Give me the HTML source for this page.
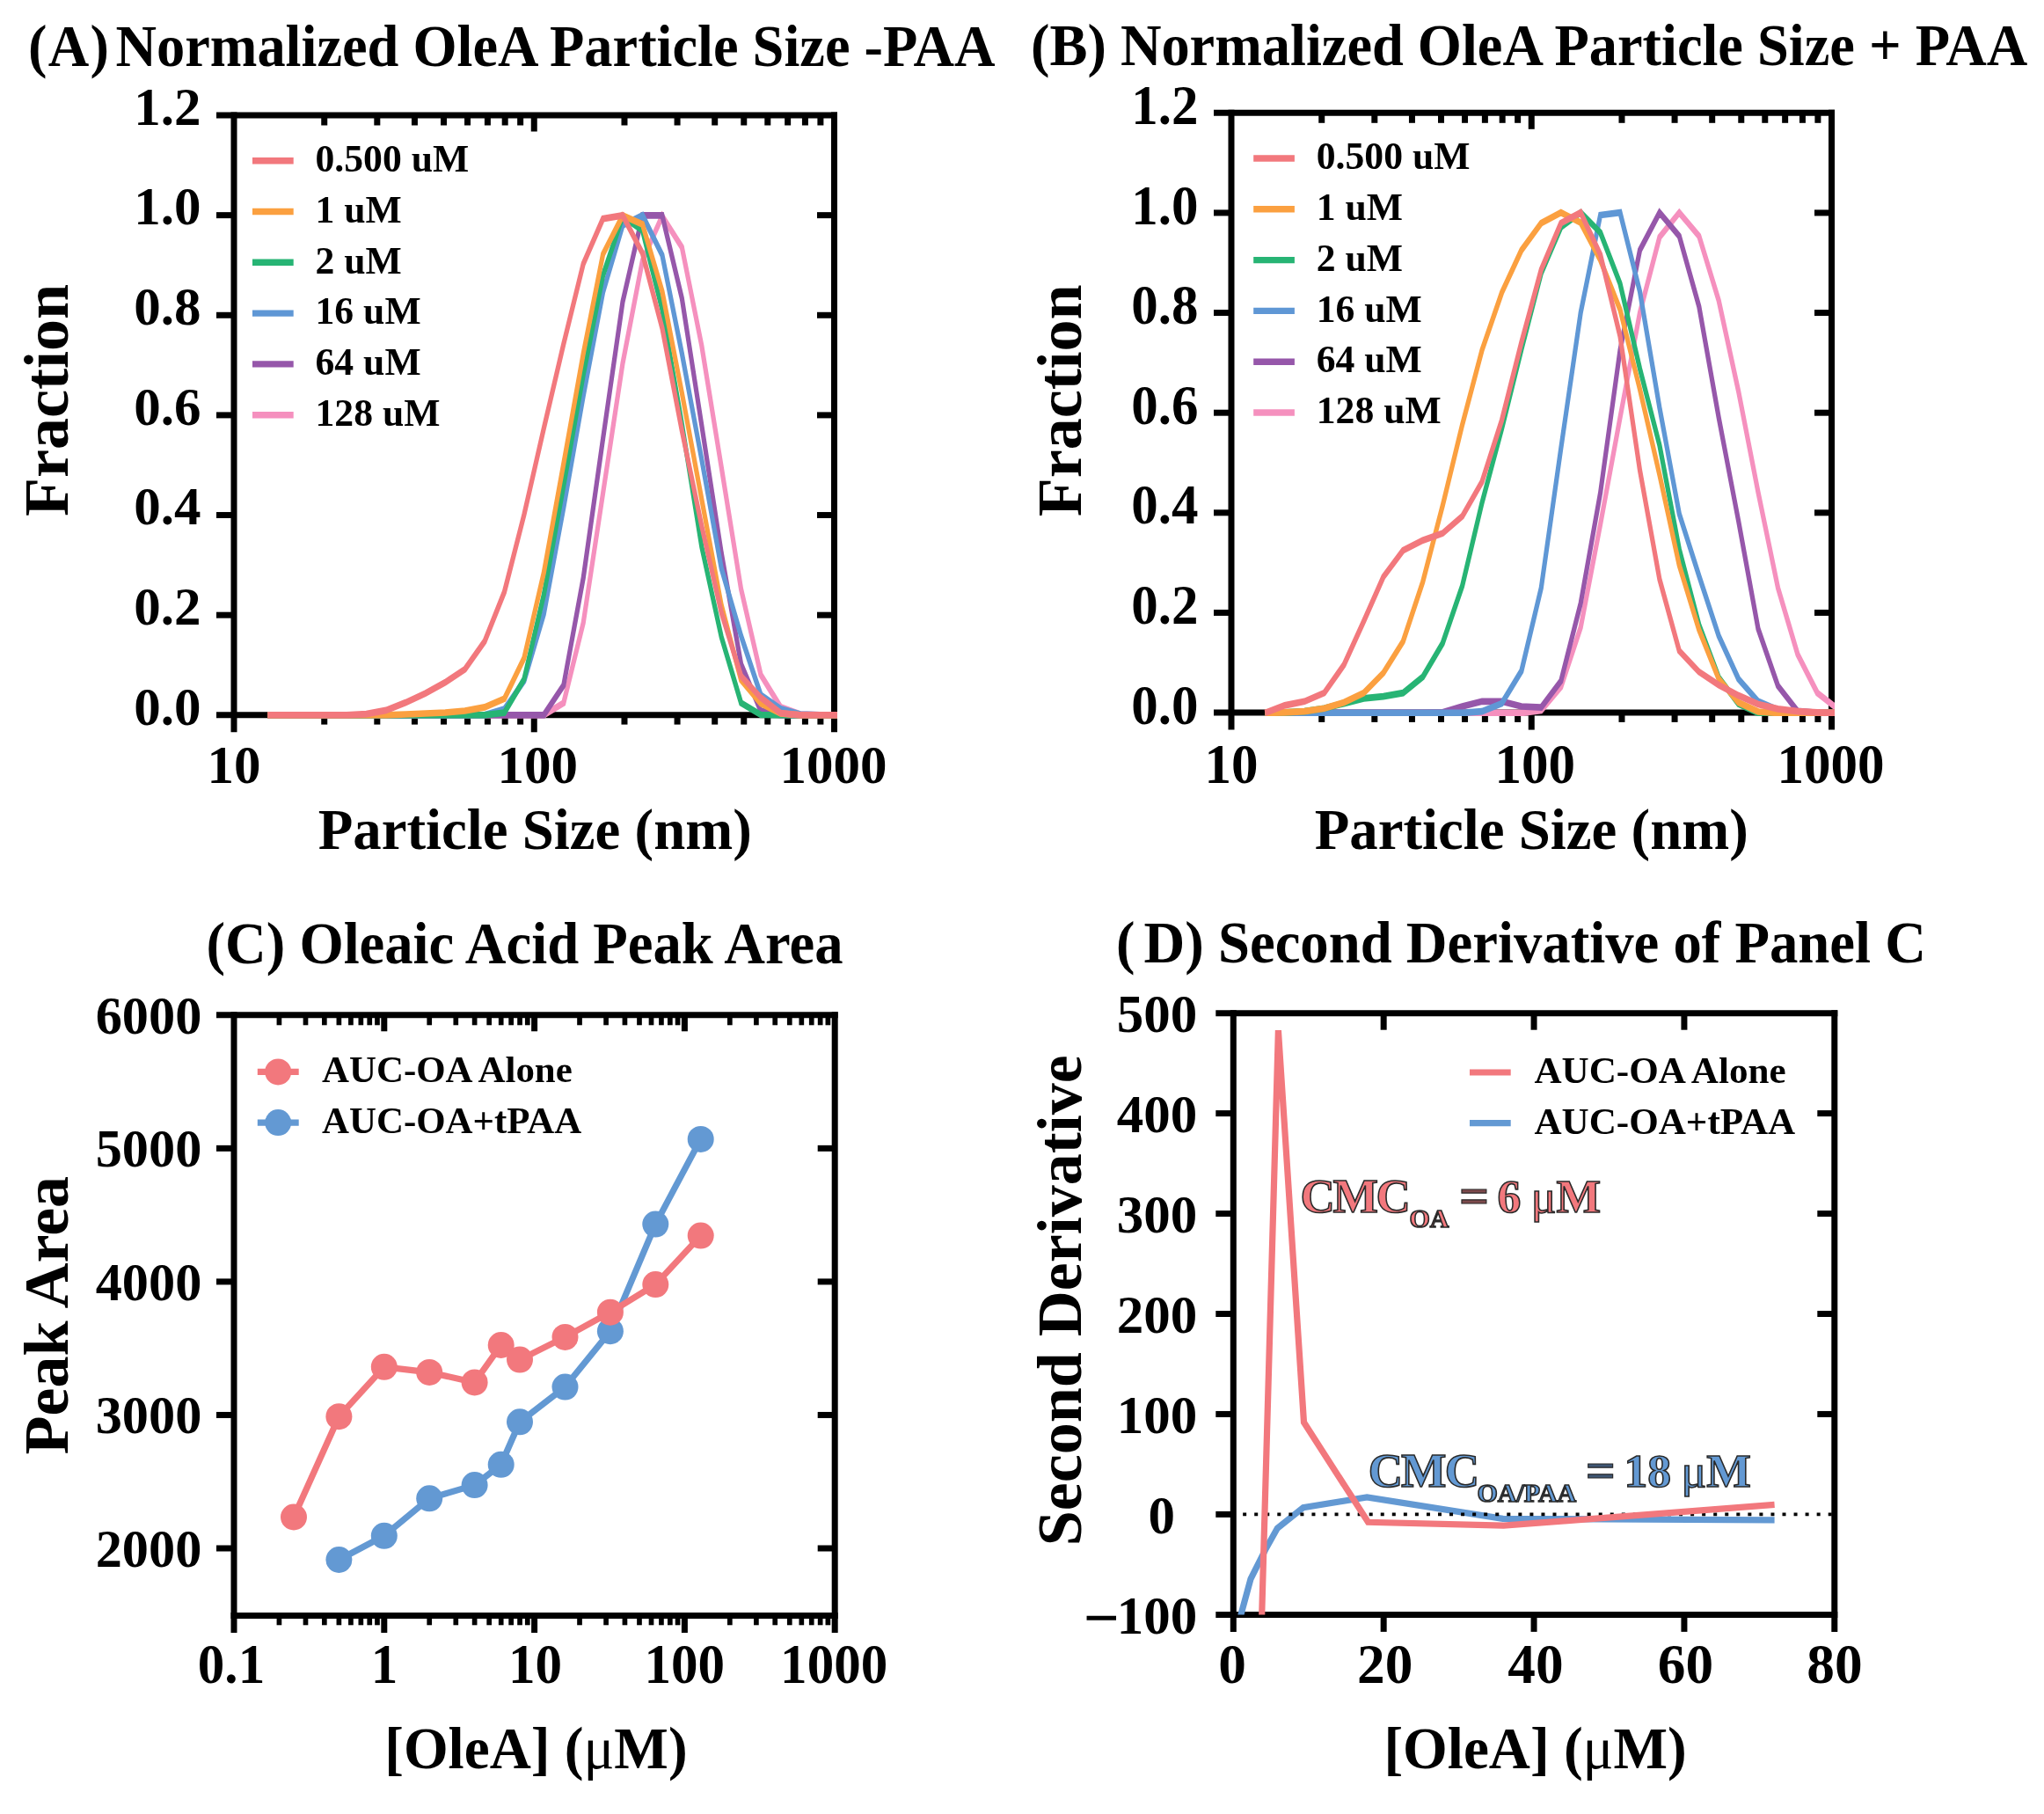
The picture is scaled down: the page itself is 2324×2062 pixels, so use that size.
<!DOCTYPE html><html><head><meta charset="utf-8"><title>Figure</title><style>html,body{margin:0;padding:0;background:#fff}</style></head><body><svg width="2324" height="2062" viewBox="0 0 2324 2062" style="display:block;filter:blur(0.45px);font-family:'Liberation Serif',serif;font-weight:bold" shape-rendering="geometricPrecision">
<rect width="2324" height="2062" fill="#fff"/>
<line x1="246.00" y1="131.00" x2="952.00" y2="131.00" stroke="#000" stroke-width="7.0"/>
<line x1="246.00" y1="812.80" x2="952.00" y2="812.80" stroke="#000" stroke-width="7.0"/>
<line x1="266.00" y1="127.50" x2="266.00" y2="832.30" stroke="#000" stroke-width="7.0"/>
<line x1="948.50" y1="127.50" x2="948.50" y2="832.30" stroke="#000" stroke-width="7.0"/>
<line x1="368.73" y1="812.80" x2="368.73" y2="823.60" stroke="#000" stroke-width="7.0"/>
<line x1="368.73" y1="131.00" x2="368.73" y2="142.50" stroke="#000" stroke-width="7.0"/>
<line x1="428.82" y1="812.80" x2="428.82" y2="823.60" stroke="#000" stroke-width="7.0"/>
<line x1="428.82" y1="131.00" x2="428.82" y2="142.50" stroke="#000" stroke-width="7.0"/>
<line x1="471.45" y1="812.80" x2="471.45" y2="823.60" stroke="#000" stroke-width="7.0"/>
<line x1="471.45" y1="131.00" x2="471.45" y2="142.50" stroke="#000" stroke-width="7.0"/>
<line x1="504.52" y1="812.80" x2="504.52" y2="823.60" stroke="#000" stroke-width="7.0"/>
<line x1="504.52" y1="131.00" x2="504.52" y2="142.50" stroke="#000" stroke-width="7.0"/>
<line x1="531.54" y1="812.80" x2="531.54" y2="823.60" stroke="#000" stroke-width="7.0"/>
<line x1="531.54" y1="131.00" x2="531.54" y2="142.50" stroke="#000" stroke-width="7.0"/>
<line x1="554.39" y1="812.80" x2="554.39" y2="823.60" stroke="#000" stroke-width="7.0"/>
<line x1="554.39" y1="131.00" x2="554.39" y2="142.50" stroke="#000" stroke-width="7.0"/>
<line x1="574.18" y1="812.80" x2="574.18" y2="823.60" stroke="#000" stroke-width="7.0"/>
<line x1="574.18" y1="131.00" x2="574.18" y2="142.50" stroke="#000" stroke-width="7.0"/>
<line x1="591.64" y1="812.80" x2="591.64" y2="823.60" stroke="#000" stroke-width="7.0"/>
<line x1="591.64" y1="131.00" x2="591.64" y2="142.50" stroke="#000" stroke-width="7.0"/>
<line x1="607.25" y1="812.80" x2="607.25" y2="832.30" stroke="#000" stroke-width="7.0"/>
<line x1="607.25" y1="131.00" x2="607.25" y2="149.50" stroke="#000" stroke-width="7.0"/>
<line x1="709.98" y1="812.80" x2="709.98" y2="823.60" stroke="#000" stroke-width="7.0"/>
<line x1="709.98" y1="131.00" x2="709.98" y2="142.50" stroke="#000" stroke-width="7.0"/>
<line x1="770.07" y1="812.80" x2="770.07" y2="823.60" stroke="#000" stroke-width="7.0"/>
<line x1="770.07" y1="131.00" x2="770.07" y2="142.50" stroke="#000" stroke-width="7.0"/>
<line x1="812.70" y1="812.80" x2="812.70" y2="823.60" stroke="#000" stroke-width="7.0"/>
<line x1="812.70" y1="131.00" x2="812.70" y2="142.50" stroke="#000" stroke-width="7.0"/>
<line x1="845.77" y1="812.80" x2="845.77" y2="823.60" stroke="#000" stroke-width="7.0"/>
<line x1="845.77" y1="131.00" x2="845.77" y2="142.50" stroke="#000" stroke-width="7.0"/>
<line x1="872.79" y1="812.80" x2="872.79" y2="823.60" stroke="#000" stroke-width="7.0"/>
<line x1="872.79" y1="131.00" x2="872.79" y2="142.50" stroke="#000" stroke-width="7.0"/>
<line x1="895.64" y1="812.80" x2="895.64" y2="823.60" stroke="#000" stroke-width="7.0"/>
<line x1="895.64" y1="131.00" x2="895.64" y2="142.50" stroke="#000" stroke-width="7.0"/>
<line x1="915.43" y1="812.80" x2="915.43" y2="823.60" stroke="#000" stroke-width="7.0"/>
<line x1="915.43" y1="131.00" x2="915.43" y2="142.50" stroke="#000" stroke-width="7.0"/>
<line x1="932.89" y1="812.80" x2="932.89" y2="823.60" stroke="#000" stroke-width="7.0"/>
<line x1="932.89" y1="131.00" x2="932.89" y2="142.50" stroke="#000" stroke-width="7.0"/>
<line x1="246.00" y1="699.17" x2="266.00" y2="699.17" stroke="#000" stroke-width="7.0"/>
<line x1="929.00" y1="699.17" x2="948.50" y2="699.17" stroke="#000" stroke-width="7.0"/>
<line x1="246.00" y1="585.53" x2="266.00" y2="585.53" stroke="#000" stroke-width="7.0"/>
<line x1="929.00" y1="585.53" x2="948.50" y2="585.53" stroke="#000" stroke-width="7.0"/>
<line x1="246.00" y1="471.90" x2="266.00" y2="471.90" stroke="#000" stroke-width="7.0"/>
<line x1="929.00" y1="471.90" x2="948.50" y2="471.90" stroke="#000" stroke-width="7.0"/>
<line x1="246.00" y1="358.27" x2="266.00" y2="358.27" stroke="#000" stroke-width="7.0"/>
<line x1="929.00" y1="358.27" x2="948.50" y2="358.27" stroke="#000" stroke-width="7.0"/>
<line x1="246.00" y1="244.63" x2="266.00" y2="244.63" stroke="#000" stroke-width="7.0"/>
<line x1="929.00" y1="244.63" x2="948.50" y2="244.63" stroke="#000" stroke-width="7.0"/>
<text x="228.50" y="823.60" font-size="61" text-anchor="end" fill="#000" >0.0</text>
<text x="228.50" y="709.97" font-size="61" text-anchor="end" fill="#000" >0.2</text>
<text x="228.50" y="596.33" font-size="61" text-anchor="end" fill="#000" >0.4</text>
<text x="228.50" y="482.70" font-size="61" text-anchor="end" fill="#000" >0.6</text>
<text x="228.50" y="369.07" font-size="61" text-anchor="end" fill="#000" >0.8</text>
<text x="228.50" y="255.43" font-size="61" text-anchor="end" fill="#000" >1.0</text>
<text x="228.50" y="141.80" font-size="61" text-anchor="end" fill="#000" >1.2</text>
<text x="266.00" y="889.50" font-size="61" text-anchor="middle" fill="#000" >10</text>
<text x="611.25" y="889.50" font-size="61" text-anchor="middle" fill="#000" >100</text>
<text x="947.50" y="889.50" font-size="61" text-anchor="middle" fill="#000" >1000</text>
<text x="608.25" y="964.90" font-size="64.8" text-anchor="middle" fill="#000" >Particle Size (nm)</text>
<text transform="translate(76.70,455.00) rotate(-90)" font-size="72" text-anchor="middle">Fraction</text>
<text transform="translate(32.00,74.60) scale(1,1.04)" font-size="64.4" text-anchor="start" fill="#000" ><tspan letter-spacing="1.3">(A)</tspan></text>
<text transform="translate(131.50,74.60) scale(1,1.04)" font-size="64.4" text-anchor="start" fill="#000" >Normalized OleA Particle Size -PAA</text>
<clipPath id="clipA"><rect x="262.5" y="127.5" width="689.5" height="689.2"/></clipPath>
<g clip-path="url(#clipA)"><polyline points="304.3,549.19 618.3,549.19 640.8,539.86 663.2,478.38 685.6,378.72 708.0,279.05 730.5,200.00 752.9,166.01 775.3,189.86 797.8,265.54 820.2,358.78 842.6,452.57 865.0,518.24 887.5,543.04 909.9,548.65 932.3,549.19 956.0,549.19" transform="scale(1,1.48)" fill="none" stroke="#F590BE" stroke-width="5.2" stroke-linejoin="miter" stroke-miterlimit="10"/></g>
<g clip-path="url(#clipA)"><polyline points="304.3,549.19 618.3,549.19 640.8,526.35 663.2,443.92 685.6,336.82 708.0,231.76 730.5,165.41 752.9,165.41 775.3,229.05 797.8,326.69 820.2,424.73 842.6,510.14 865.0,545.95 887.5,549.19 956.0,549.19" transform="scale(1,1.48)" fill="none" stroke="#9657AA" stroke-width="5.2" stroke-linejoin="miter" stroke-miterlimit="10"/></g>
<g clip-path="url(#clipA)"><polyline points="304.3,549.19 551.0,549.19 573.5,544.59 595.9,522.97 618.3,471.62 640.8,389.86 663.2,304.05 685.6,224.32 708.0,172.97 730.5,165.41 752.9,195.95 775.3,271.35 797.8,352.91 820.2,436.49 842.6,488.51 865.0,533.78 887.5,544.39 909.9,548.65 932.3,549.19 956.0,549.19" transform="scale(1,1.48)" fill="none" stroke="#5F97D5" stroke-width="5.2" stroke-linejoin="miter" stroke-miterlimit="10"/></g>
<g clip-path="url(#clipA)"><polyline points="304.3,549.19 551.0,549.19 573.5,547.30 595.9,521.62 618.3,456.76 640.8,372.97 663.2,287.84 685.6,211.49 708.0,166.22 730.5,177.03 752.9,237.84 775.3,325.68 797.8,419.93 820.2,489.19 842.6,539.86 865.0,548.99 887.5,549.19 956.0,549.19" transform="scale(1,1.48)" fill="none" stroke="#27B474" stroke-width="5.2" stroke-linejoin="miter" stroke-miterlimit="10"/></g>
<g clip-path="url(#clipA)"><polyline points="304.3,549.19 438.9,549.19 461.3,548.65 483.7,547.97 506.2,547.30 528.6,545.95 551.0,543.18 573.5,536.62 595.9,505.41 618.3,439.86 640.8,356.08 663.2,271.62 685.6,195.27 708.0,165.54 730.5,172.30 752.9,223.65 775.3,301.69 797.8,383.51 820.2,464.86 842.6,522.30 865.0,540.20 887.5,547.97 909.9,549.19 956.0,549.19" transform="scale(1,1.48)" fill="none" stroke="#FBA040" stroke-width="5.2" stroke-linejoin="miter" stroke-miterlimit="10"/></g>
<g clip-path="url(#clipA)"><polyline points="304.3,549.19 394.0,549.19 416.5,548.38 438.9,545.54 461.3,539.59 483.7,532.50 506.2,524.12 528.6,514.05 551.0,492.64 573.5,454.53 595.9,395.27 618.3,329.05 640.8,264.19 663.2,202.70 685.6,167.97 708.0,165.41 730.5,194.59 752.9,252.03 775.3,330.68 797.8,403.99 820.2,470.54 842.6,519.26 865.0,535.81 887.5,547.64 909.9,549.19 956.0,549.19" transform="scale(1,1.48)" fill="none" stroke="#F2787D" stroke-width="5.2" stroke-linejoin="miter" stroke-miterlimit="10"/></g>
<line x1="287.00" y1="182.70" x2="333.70" y2="182.70" stroke="#F2787D" stroke-width="7.4"/>
<text x="358.50" y="194.90" font-size="43.7" text-anchor="start" fill="#000" >0.500 uM</text>
<line x1="287.00" y1="240.50" x2="333.70" y2="240.50" stroke="#FBA040" stroke-width="7.4"/>
<text x="358.50" y="252.70" font-size="43.7" text-anchor="start" fill="#000" >1 uM</text>
<line x1="287.00" y1="298.30" x2="333.70" y2="298.30" stroke="#27B474" stroke-width="7.4"/>
<text x="358.50" y="310.50" font-size="43.7" text-anchor="start" fill="#000" >2 uM</text>
<line x1="287.00" y1="356.10" x2="333.70" y2="356.10" stroke="#5F97D5" stroke-width="7.4"/>
<text x="358.50" y="368.30" font-size="43.7" text-anchor="start" fill="#000" >16 uM</text>
<line x1="287.00" y1="413.90" x2="333.70" y2="413.90" stroke="#9657AA" stroke-width="7.4"/>
<text x="358.50" y="426.10" font-size="43.7" text-anchor="start" fill="#000" >64 uM</text>
<line x1="287.00" y1="471.70" x2="333.70" y2="471.70" stroke="#F590BE" stroke-width="7.4"/>
<text x="358.50" y="483.90" font-size="43.7" text-anchor="start" fill="#000" >128 uM</text>
<line x1="1380.00" y1="128.30" x2="2086.00" y2="128.30" stroke="#000" stroke-width="7.0"/>
<line x1="1380.00" y1="810.10" x2="2086.00" y2="810.10" stroke="#000" stroke-width="7.0"/>
<line x1="1400.00" y1="124.80" x2="1400.00" y2="829.60" stroke="#000" stroke-width="7.0"/>
<line x1="2082.50" y1="124.80" x2="2082.50" y2="829.60" stroke="#000" stroke-width="7.0"/>
<line x1="1502.73" y1="810.10" x2="1502.73" y2="820.90" stroke="#000" stroke-width="7.0"/>
<line x1="1502.73" y1="128.30" x2="1502.73" y2="139.80" stroke="#000" stroke-width="7.0"/>
<line x1="1562.82" y1="810.10" x2="1562.82" y2="820.90" stroke="#000" stroke-width="7.0"/>
<line x1="1562.82" y1="128.30" x2="1562.82" y2="139.80" stroke="#000" stroke-width="7.0"/>
<line x1="1605.45" y1="810.10" x2="1605.45" y2="820.90" stroke="#000" stroke-width="7.0"/>
<line x1="1605.45" y1="128.30" x2="1605.45" y2="139.80" stroke="#000" stroke-width="7.0"/>
<line x1="1638.52" y1="810.10" x2="1638.52" y2="820.90" stroke="#000" stroke-width="7.0"/>
<line x1="1638.52" y1="128.30" x2="1638.52" y2="139.80" stroke="#000" stroke-width="7.0"/>
<line x1="1665.54" y1="810.10" x2="1665.54" y2="820.90" stroke="#000" stroke-width="7.0"/>
<line x1="1665.54" y1="128.30" x2="1665.54" y2="139.80" stroke="#000" stroke-width="7.0"/>
<line x1="1688.39" y1="810.10" x2="1688.39" y2="820.90" stroke="#000" stroke-width="7.0"/>
<line x1="1688.39" y1="128.30" x2="1688.39" y2="139.80" stroke="#000" stroke-width="7.0"/>
<line x1="1708.18" y1="810.10" x2="1708.18" y2="820.90" stroke="#000" stroke-width="7.0"/>
<line x1="1708.18" y1="128.30" x2="1708.18" y2="139.80" stroke="#000" stroke-width="7.0"/>
<line x1="1725.64" y1="810.10" x2="1725.64" y2="820.90" stroke="#000" stroke-width="7.0"/>
<line x1="1725.64" y1="128.30" x2="1725.64" y2="139.80" stroke="#000" stroke-width="7.0"/>
<line x1="1741.25" y1="810.10" x2="1741.25" y2="829.60" stroke="#000" stroke-width="7.0"/>
<line x1="1741.25" y1="128.30" x2="1741.25" y2="146.80" stroke="#000" stroke-width="7.0"/>
<line x1="1843.98" y1="810.10" x2="1843.98" y2="820.90" stroke="#000" stroke-width="7.0"/>
<line x1="1843.98" y1="128.30" x2="1843.98" y2="139.80" stroke="#000" stroke-width="7.0"/>
<line x1="1904.07" y1="810.10" x2="1904.07" y2="820.90" stroke="#000" stroke-width="7.0"/>
<line x1="1904.07" y1="128.30" x2="1904.07" y2="139.80" stroke="#000" stroke-width="7.0"/>
<line x1="1946.70" y1="810.10" x2="1946.70" y2="820.90" stroke="#000" stroke-width="7.0"/>
<line x1="1946.70" y1="128.30" x2="1946.70" y2="139.80" stroke="#000" stroke-width="7.0"/>
<line x1="1979.77" y1="810.10" x2="1979.77" y2="820.90" stroke="#000" stroke-width="7.0"/>
<line x1="1979.77" y1="128.30" x2="1979.77" y2="139.80" stroke="#000" stroke-width="7.0"/>
<line x1="2006.79" y1="810.10" x2="2006.79" y2="820.90" stroke="#000" stroke-width="7.0"/>
<line x1="2006.79" y1="128.30" x2="2006.79" y2="139.80" stroke="#000" stroke-width="7.0"/>
<line x1="2029.64" y1="810.10" x2="2029.64" y2="820.90" stroke="#000" stroke-width="7.0"/>
<line x1="2029.64" y1="128.30" x2="2029.64" y2="139.80" stroke="#000" stroke-width="7.0"/>
<line x1="2049.43" y1="810.10" x2="2049.43" y2="820.90" stroke="#000" stroke-width="7.0"/>
<line x1="2049.43" y1="128.30" x2="2049.43" y2="139.80" stroke="#000" stroke-width="7.0"/>
<line x1="2066.89" y1="810.10" x2="2066.89" y2="820.90" stroke="#000" stroke-width="7.0"/>
<line x1="2066.89" y1="128.30" x2="2066.89" y2="139.80" stroke="#000" stroke-width="7.0"/>
<line x1="1380.00" y1="696.47" x2="1400.00" y2="696.47" stroke="#000" stroke-width="7.0"/>
<line x1="2063.00" y1="696.47" x2="2082.50" y2="696.47" stroke="#000" stroke-width="7.0"/>
<line x1="1380.00" y1="582.83" x2="1400.00" y2="582.83" stroke="#000" stroke-width="7.0"/>
<line x1="2063.00" y1="582.83" x2="2082.50" y2="582.83" stroke="#000" stroke-width="7.0"/>
<line x1="1380.00" y1="469.20" x2="1400.00" y2="469.20" stroke="#000" stroke-width="7.0"/>
<line x1="2063.00" y1="469.20" x2="2082.50" y2="469.20" stroke="#000" stroke-width="7.0"/>
<line x1="1380.00" y1="355.57" x2="1400.00" y2="355.57" stroke="#000" stroke-width="7.0"/>
<line x1="2063.00" y1="355.57" x2="2082.50" y2="355.57" stroke="#000" stroke-width="7.0"/>
<line x1="1380.00" y1="241.93" x2="1400.00" y2="241.93" stroke="#000" stroke-width="7.0"/>
<line x1="2063.00" y1="241.93" x2="2082.50" y2="241.93" stroke="#000" stroke-width="7.0"/>
<text transform="translate(1362.50,822.70) scale(1,1.055)" font-size="61" text-anchor="end" fill="#000" >0.0</text>
<text transform="translate(1362.50,709.07) scale(1,1.055)" font-size="61" text-anchor="end" fill="#000" >0.2</text>
<text transform="translate(1362.50,595.43) scale(1,1.055)" font-size="61" text-anchor="end" fill="#000" >0.4</text>
<text transform="translate(1362.50,481.80) scale(1,1.055)" font-size="61" text-anchor="end" fill="#000" >0.6</text>
<text transform="translate(1362.50,368.17) scale(1,1.055)" font-size="61" text-anchor="end" fill="#000" >0.8</text>
<text transform="translate(1362.50,254.53) scale(1,1.055)" font-size="61" text-anchor="end" fill="#000" >1.0</text>
<text transform="translate(1362.50,140.90) scale(1,1.055)" font-size="61" text-anchor="end" fill="#000" >1.2</text>
<text transform="translate(1400.00,890.30) scale(1,1.03)" font-size="61" text-anchor="middle" fill="#000" >10</text>
<text transform="translate(1745.25,890.30) scale(1,1.03)" font-size="61" text-anchor="middle" fill="#000" >100</text>
<text transform="translate(2081.50,890.30) scale(1,1.03)" font-size="61" text-anchor="middle" fill="#000" >1000</text>
<text x="1741.25" y="964.90" font-size="64.8" text-anchor="middle" fill="#000" >Particle Size (nm)</text>
<text transform="translate(1228.60,455.30) rotate(-90)" font-size="72" text-anchor="middle">Fraction</text>
<text transform="translate(1172.00,74.10) scale(1,1.04)" font-size="64.4" text-anchor="start" fill="#000" >(B) Normalized OleA Particle Size + PAA</text>
<clipPath id="clipB"><rect x="1396.5" y="124.8" width="689.5" height="689.2"/></clipPath>
<g clip-path="url(#clipB)"><polyline points="1438.3,547.57 1460.7,547.57 1483.2,547.57 1505.6,547.57 1528.0,547.57 1550.5,547.57 1572.9,547.57 1595.3,547.57 1617.7,547.57 1640.2,547.57 1662.6,547.57 1685.0,547.57 1707.5,547.57 1729.9,547.57 1752.3,545.65 1774.8,527.58 1797.2,481.85 1819.6,402.69 1842.0,320.84 1864.5,240.14 1886.9,182.11 1909.3,163.28 1931.8,181.34 1954.2,230.91 1976.6,300.47 1999.0,378.10 2021.5,451.49 2043.9,502.61 2066.3,532.20 2088.8,544.11" transform="scale(1,1.48)" fill="none" stroke="#F590BE" stroke-width="5.2" stroke-linejoin="miter" stroke-miterlimit="10"/></g>
<g clip-path="url(#clipB)"><polyline points="1438.3,547.57 1460.7,547.57 1483.2,547.57 1505.6,547.57 1528.0,547.57 1550.5,547.57 1572.9,547.57 1595.3,547.57 1617.7,547.57 1640.2,547.18 1662.6,542.57 1685.0,538.73 1707.5,538.73 1729.9,542.57 1752.3,543.34 1774.8,522.97 1797.2,463.41 1819.6,378.48 1842.0,268.96 1864.5,192.10 1886.9,163.28 1909.3,181.34 1931.8,235.52 1954.2,320.84 1976.6,400.00 1999.0,483.01 2021.5,526.82 2043.9,546.18 2066.3,547.57 2088.8,547.57" transform="scale(1,1.48)" fill="none" stroke="#9657AA" stroke-width="5.2" stroke-linejoin="miter" stroke-miterlimit="10"/></g>
<g clip-path="url(#clipB)"><polyline points="1438.3,547.57 1460.7,547.57 1483.2,547.57 1505.6,547.57 1528.0,547.57 1550.5,547.57 1572.9,547.57 1595.3,547.57 1617.7,547.57 1640.2,547.57 1662.6,547.57 1685.0,546.41 1707.5,540.27 1729.9,515.29 1752.3,451.49 1774.8,344.28 1797.2,240.14 1819.6,165.20 1842.0,163.28 1864.5,223.99 1886.9,313.15 1909.3,394.62 1931.8,442.27 1954.2,488.39 1976.6,521.44 1999.0,538.73 2021.5,545.26 2043.9,547.18 2066.3,547.57 2088.8,547.57" transform="scale(1,1.48)" fill="none" stroke="#5F97D5" stroke-width="5.2" stroke-linejoin="miter" stroke-miterlimit="10"/></g>
<g clip-path="url(#clipB)"><polyline points="1438.3,547.57 1460.7,547.18 1483.2,546.41 1505.6,544.11 1528.0,540.27 1550.5,536.42 1572.9,534.89 1595.3,532.20 1617.7,519.90 1640.2,494.15 1662.6,449.96 1685.0,386.17 1707.5,329.29 1729.9,268.19 1752.3,209.78 1774.8,174.42 1797.2,163.28 1819.6,178.65 1842.0,217.85 1864.5,283.18 1886.9,341.97 1909.3,421.90 1931.8,479.93 1954.2,520.28 1976.6,540.65 1999.0,547.57 2021.5,547.57 2043.9,547.57 2066.3,547.57 2088.8,547.57" transform="scale(1,1.48)" fill="none" stroke="#27B474" stroke-width="5.2" stroke-linejoin="miter" stroke-miterlimit="10"/></g>
<g clip-path="url(#clipB)"><polyline points="1438.3,547.57 1460.7,547.18 1483.2,546.41 1505.6,544.11 1528.0,539.50 1550.5,532.20 1572.9,516.82 1595.3,492.61 1617.7,446.88 1640.2,388.47 1662.6,326.22 1685.0,268.96 1707.5,224.76 1729.9,192.10 1752.3,171.35 1774.8,163.28 1797.2,170.96 1819.6,199.78 1842.0,237.83 1864.5,298.93 1886.9,364.65 1909.3,434.20 1931.8,483.78 1954.2,521.44 1976.6,539.50 1999.0,546.61 2021.5,547.57 2043.9,547.57 2066.3,547.57 2088.8,547.57" transform="scale(1,1.48)" fill="none" stroke="#FBA040" stroke-width="5.2" stroke-linejoin="miter" stroke-miterlimit="10"/></g>
<g clip-path="url(#clipB)"><polyline points="1438.3,547.57 1460.7,541.80 1483.2,538.73 1505.6,532.20 1528.0,510.68 1550.5,477.24 1572.9,443.04 1595.3,422.67 1617.7,414.99 1640.2,409.61 1662.6,396.54 1685.0,370.03 1707.5,322.76 1729.9,262.81 1752.3,207.09 1774.8,171.35 1797.2,163.28 1819.6,195.56 1842.0,258.20 1864.5,361.19 1886.9,444.96 1909.3,499.92 1931.8,516.06 1954.2,526.05 1976.6,534.12 1999.0,540.84 2021.5,544.49 2043.9,546.41 2066.3,547.18 2088.8,547.57" transform="scale(1,1.48)" fill="none" stroke="#F2787D" stroke-width="5.2" stroke-linejoin="miter" stroke-miterlimit="10"/></g>
<line x1="1425.20" y1="180.00" x2="1471.90" y2="180.00" stroke="#F2787D" stroke-width="7.4"/>
<text x="1496.70" y="192.20" font-size="43.7" text-anchor="start" fill="#000" >0.500 uM</text>
<line x1="1425.20" y1="237.80" x2="1471.90" y2="237.80" stroke="#FBA040" stroke-width="7.4"/>
<text x="1496.70" y="250.00" font-size="43.7" text-anchor="start" fill="#000" >1 uM</text>
<line x1="1425.20" y1="295.60" x2="1471.90" y2="295.60" stroke="#27B474" stroke-width="7.4"/>
<text x="1496.70" y="307.80" font-size="43.7" text-anchor="start" fill="#000" >2 uM</text>
<line x1="1425.20" y1="353.40" x2="1471.90" y2="353.40" stroke="#5F97D5" stroke-width="7.4"/>
<text x="1496.70" y="365.60" font-size="43.7" text-anchor="start" fill="#000" >16 uM</text>
<line x1="1425.20" y1="411.20" x2="1471.90" y2="411.20" stroke="#9657AA" stroke-width="7.4"/>
<text x="1496.70" y="423.40" font-size="43.7" text-anchor="start" fill="#000" >64 uM</text>
<line x1="1425.20" y1="469.00" x2="1471.90" y2="469.00" stroke="#F590BE" stroke-width="7.4"/>
<text x="1496.70" y="481.20" font-size="43.7" text-anchor="start" fill="#000" >128 uM</text>
<line x1="246.00" y1="1153.80" x2="952.70" y2="1153.80" stroke="#000" stroke-width="7.0"/>
<line x1="262.50" y1="1836.50" x2="952.70" y2="1836.50" stroke="#000" stroke-width="7.0"/>
<line x1="266.00" y1="1150.30" x2="266.00" y2="1856.00" stroke="#000" stroke-width="7.0"/>
<line x1="949.20" y1="1150.30" x2="949.20" y2="1856.00" stroke="#000" stroke-width="7.0"/>
<line x1="317.42" y1="1836.50" x2="317.42" y2="1847.30" stroke="#000" stroke-width="5.7"/>
<line x1="317.42" y1="1153.80" x2="317.42" y2="1165.30" stroke="#000" stroke-width="5.7"/>
<line x1="347.49" y1="1836.50" x2="347.49" y2="1847.30" stroke="#000" stroke-width="5.7"/>
<line x1="347.49" y1="1153.80" x2="347.49" y2="1165.30" stroke="#000" stroke-width="5.7"/>
<line x1="368.83" y1="1836.50" x2="368.83" y2="1847.30" stroke="#000" stroke-width="5.7"/>
<line x1="368.83" y1="1153.80" x2="368.83" y2="1165.30" stroke="#000" stroke-width="5.7"/>
<line x1="385.38" y1="1836.50" x2="385.38" y2="1847.30" stroke="#000" stroke-width="5.7"/>
<line x1="385.38" y1="1153.80" x2="385.38" y2="1165.30" stroke="#000" stroke-width="5.7"/>
<line x1="398.91" y1="1836.50" x2="398.91" y2="1847.30" stroke="#000" stroke-width="5.7"/>
<line x1="398.91" y1="1153.80" x2="398.91" y2="1165.30" stroke="#000" stroke-width="5.7"/>
<line x1="410.34" y1="1836.50" x2="410.34" y2="1847.30" stroke="#000" stroke-width="5.7"/>
<line x1="410.34" y1="1153.80" x2="410.34" y2="1165.30" stroke="#000" stroke-width="5.7"/>
<line x1="420.25" y1="1836.50" x2="420.25" y2="1847.30" stroke="#000" stroke-width="5.7"/>
<line x1="420.25" y1="1153.80" x2="420.25" y2="1165.30" stroke="#000" stroke-width="5.7"/>
<line x1="428.98" y1="1836.50" x2="428.98" y2="1847.30" stroke="#000" stroke-width="5.7"/>
<line x1="428.98" y1="1153.80" x2="428.98" y2="1165.30" stroke="#000" stroke-width="5.7"/>
<line x1="436.80" y1="1836.50" x2="436.80" y2="1856.00" stroke="#000" stroke-width="7.0"/>
<line x1="436.80" y1="1153.80" x2="436.80" y2="1172.30" stroke="#000" stroke-width="7.0"/>
<line x1="488.22" y1="1836.50" x2="488.22" y2="1847.30" stroke="#000" stroke-width="5.7"/>
<line x1="488.22" y1="1153.80" x2="488.22" y2="1165.30" stroke="#000" stroke-width="5.7"/>
<line x1="518.29" y1="1836.50" x2="518.29" y2="1847.30" stroke="#000" stroke-width="5.7"/>
<line x1="518.29" y1="1153.80" x2="518.29" y2="1165.30" stroke="#000" stroke-width="5.7"/>
<line x1="539.63" y1="1836.50" x2="539.63" y2="1847.30" stroke="#000" stroke-width="5.7"/>
<line x1="539.63" y1="1153.80" x2="539.63" y2="1165.30" stroke="#000" stroke-width="5.7"/>
<line x1="556.18" y1="1836.50" x2="556.18" y2="1847.30" stroke="#000" stroke-width="5.7"/>
<line x1="556.18" y1="1153.80" x2="556.18" y2="1165.30" stroke="#000" stroke-width="5.7"/>
<line x1="569.71" y1="1836.50" x2="569.71" y2="1847.30" stroke="#000" stroke-width="5.7"/>
<line x1="569.71" y1="1153.80" x2="569.71" y2="1165.30" stroke="#000" stroke-width="5.7"/>
<line x1="581.14" y1="1836.50" x2="581.14" y2="1847.30" stroke="#000" stroke-width="5.7"/>
<line x1="581.14" y1="1153.80" x2="581.14" y2="1165.30" stroke="#000" stroke-width="5.7"/>
<line x1="591.05" y1="1836.50" x2="591.05" y2="1847.30" stroke="#000" stroke-width="5.7"/>
<line x1="591.05" y1="1153.80" x2="591.05" y2="1165.30" stroke="#000" stroke-width="5.7"/>
<line x1="599.78" y1="1836.50" x2="599.78" y2="1847.30" stroke="#000" stroke-width="5.7"/>
<line x1="599.78" y1="1153.80" x2="599.78" y2="1165.30" stroke="#000" stroke-width="5.7"/>
<line x1="607.60" y1="1836.50" x2="607.60" y2="1856.00" stroke="#000" stroke-width="7.0"/>
<line x1="607.60" y1="1153.80" x2="607.60" y2="1172.30" stroke="#000" stroke-width="7.0"/>
<line x1="659.02" y1="1836.50" x2="659.02" y2="1847.30" stroke="#000" stroke-width="5.7"/>
<line x1="659.02" y1="1153.80" x2="659.02" y2="1165.30" stroke="#000" stroke-width="5.7"/>
<line x1="689.09" y1="1836.50" x2="689.09" y2="1847.30" stroke="#000" stroke-width="5.7"/>
<line x1="689.09" y1="1153.80" x2="689.09" y2="1165.30" stroke="#000" stroke-width="5.7"/>
<line x1="710.43" y1="1836.50" x2="710.43" y2="1847.30" stroke="#000" stroke-width="5.7"/>
<line x1="710.43" y1="1153.80" x2="710.43" y2="1165.30" stroke="#000" stroke-width="5.7"/>
<line x1="726.98" y1="1836.50" x2="726.98" y2="1847.30" stroke="#000" stroke-width="5.7"/>
<line x1="726.98" y1="1153.80" x2="726.98" y2="1165.30" stroke="#000" stroke-width="5.7"/>
<line x1="740.51" y1="1836.50" x2="740.51" y2="1847.30" stroke="#000" stroke-width="5.7"/>
<line x1="740.51" y1="1153.80" x2="740.51" y2="1165.30" stroke="#000" stroke-width="5.7"/>
<line x1="751.94" y1="1836.50" x2="751.94" y2="1847.30" stroke="#000" stroke-width="5.7"/>
<line x1="751.94" y1="1153.80" x2="751.94" y2="1165.30" stroke="#000" stroke-width="5.7"/>
<line x1="761.85" y1="1836.50" x2="761.85" y2="1847.30" stroke="#000" stroke-width="5.7"/>
<line x1="761.85" y1="1153.80" x2="761.85" y2="1165.30" stroke="#000" stroke-width="5.7"/>
<line x1="770.58" y1="1836.50" x2="770.58" y2="1847.30" stroke="#000" stroke-width="5.7"/>
<line x1="770.58" y1="1153.80" x2="770.58" y2="1165.30" stroke="#000" stroke-width="5.7"/>
<line x1="778.40" y1="1836.50" x2="778.40" y2="1856.00" stroke="#000" stroke-width="7.0"/>
<line x1="778.40" y1="1153.80" x2="778.40" y2="1172.30" stroke="#000" stroke-width="7.0"/>
<line x1="829.82" y1="1836.50" x2="829.82" y2="1847.30" stroke="#000" stroke-width="5.7"/>
<line x1="829.82" y1="1153.80" x2="829.82" y2="1165.30" stroke="#000" stroke-width="5.7"/>
<line x1="859.89" y1="1836.50" x2="859.89" y2="1847.30" stroke="#000" stroke-width="5.7"/>
<line x1="859.89" y1="1153.80" x2="859.89" y2="1165.30" stroke="#000" stroke-width="5.7"/>
<line x1="881.23" y1="1836.50" x2="881.23" y2="1847.30" stroke="#000" stroke-width="5.7"/>
<line x1="881.23" y1="1153.80" x2="881.23" y2="1165.30" stroke="#000" stroke-width="5.7"/>
<line x1="897.78" y1="1836.50" x2="897.78" y2="1847.30" stroke="#000" stroke-width="5.7"/>
<line x1="897.78" y1="1153.80" x2="897.78" y2="1165.30" stroke="#000" stroke-width="5.7"/>
<line x1="911.31" y1="1836.50" x2="911.31" y2="1847.30" stroke="#000" stroke-width="5.7"/>
<line x1="911.31" y1="1153.80" x2="911.31" y2="1165.30" stroke="#000" stroke-width="5.7"/>
<line x1="922.74" y1="1836.50" x2="922.74" y2="1847.30" stroke="#000" stroke-width="5.7"/>
<line x1="922.74" y1="1153.80" x2="922.74" y2="1165.30" stroke="#000" stroke-width="5.7"/>
<line x1="932.65" y1="1836.50" x2="932.65" y2="1847.30" stroke="#000" stroke-width="5.7"/>
<line x1="932.65" y1="1153.80" x2="932.65" y2="1165.30" stroke="#000" stroke-width="5.7"/>
<line x1="941.38" y1="1836.50" x2="941.38" y2="1847.30" stroke="#000" stroke-width="5.7"/>
<line x1="941.38" y1="1153.80" x2="941.38" y2="1165.30" stroke="#000" stroke-width="5.7"/>
<line x1="246.00" y1="1760.00" x2="266.00" y2="1760.00" stroke="#000" stroke-width="7.0"/>
<line x1="929.70" y1="1760.00" x2="949.20" y2="1760.00" stroke="#000" stroke-width="7.0"/>
<line x1="246.00" y1="1608.45" x2="266.00" y2="1608.45" stroke="#000" stroke-width="7.0"/>
<line x1="929.70" y1="1608.45" x2="949.20" y2="1608.45" stroke="#000" stroke-width="7.0"/>
<line x1="246.00" y1="1456.90" x2="266.00" y2="1456.90" stroke="#000" stroke-width="7.0"/>
<line x1="929.70" y1="1456.90" x2="949.20" y2="1456.90" stroke="#000" stroke-width="7.0"/>
<line x1="246.00" y1="1305.35" x2="266.00" y2="1305.35" stroke="#000" stroke-width="7.0"/>
<line x1="929.70" y1="1305.35" x2="949.20" y2="1305.35" stroke="#000" stroke-width="7.0"/>
<text transform="translate(229.30,1780.80) scale(1,1.02)" font-size="60.3" text-anchor="end" fill="#000" >2000</text>
<text transform="translate(229.30,1629.25) scale(1,1.02)" font-size="60.3" text-anchor="end" fill="#000" >3000</text>
<text transform="translate(229.30,1477.70) scale(1,1.02)" font-size="60.3" text-anchor="end" fill="#000" >4000</text>
<text transform="translate(229.30,1326.15) scale(1,1.02)" font-size="60.3" text-anchor="end" fill="#000" >5000</text>
<text transform="translate(229.30,1174.60) scale(1,1.02)" font-size="60.3" text-anchor="end" fill="#000" >6000</text>
<text transform="translate(263.00,1912.80) scale(1,1.037)" font-size="61.1" text-anchor="middle" fill="#000" >0.1</text>
<text transform="translate(437.10,1912.80) scale(1,1.037)" font-size="61.1" text-anchor="middle" fill="#000" >1</text>
<text transform="translate(608.60,1912.80) scale(1,1.037)" font-size="61.1" text-anchor="middle" fill="#000" >10</text>
<text transform="translate(778.20,1912.80) scale(1,1.037)" font-size="61.1" text-anchor="middle" fill="#000" >100</text>
<text transform="translate(948.20,1912.80) scale(1,1.037)" font-size="61.1" text-anchor="middle" fill="#000" >1000</text>
<text transform="translate(609.4,2009.9) scale(1,1.04)" font-size="65.2" text-anchor="middle">[OleA] (<tspan font-weight="normal">μ</tspan>M)</text>
<text transform="translate(77.20,1495.20) rotate(-90)" font-size="72" text-anchor="middle">Peak Area</text>
<text transform="translate(234.50,1094.80) scale(1,1.04)" font-size="64.65" text-anchor="start" fill="#000" >(C) Oleaic Acid Peak Area</text>
<g><polyline points="385.4,1773.00 436.8,1745.80 488.2,1703.30 539.6,1688.10 569.7,1664.80 591.0,1616.30 642.5,1576.60 693.9,1513.20 745.3,1391.60 796.7,1294.90" fill="none" stroke="#6399D3" stroke-width="7.2" stroke-linejoin="round" stroke-miterlimit="10"/></g>
<circle cx="385.4" cy="1773.0" r="15" fill="#6399D3"/>
<circle cx="436.8" cy="1745.8" r="15" fill="#6399D3"/>
<circle cx="488.2" cy="1703.3" r="15" fill="#6399D3"/>
<circle cx="539.6" cy="1688.1" r="15" fill="#6399D3"/>
<circle cx="569.7" cy="1664.8" r="15" fill="#6399D3"/>
<circle cx="591.0" cy="1616.3" r="15" fill="#6399D3"/>
<circle cx="642.5" cy="1576.6" r="15" fill="#6399D3"/>
<circle cx="693.9" cy="1513.2" r="15" fill="#6399D3"/>
<circle cx="745.3" cy="1391.6" r="15" fill="#6399D3"/>
<circle cx="796.7" cy="1294.9" r="15" fill="#6399D3"/>
<g><polyline points="334.0,1724.50 385.4,1610.20 436.8,1553.80 488.2,1559.90 539.6,1571.40 569.7,1529.00 591.0,1545.60 642.5,1519.90 693.9,1491.70 745.3,1460.10 796.7,1404.60" fill="none" stroke="#F2787D" stroke-width="7.2" stroke-linejoin="round" stroke-miterlimit="10"/></g>
<circle cx="334.0" cy="1724.5" r="15" fill="#F2787D"/>
<circle cx="385.4" cy="1610.2" r="15" fill="#F2787D"/>
<circle cx="436.8" cy="1553.8" r="15" fill="#F2787D"/>
<circle cx="488.2" cy="1559.9" r="15" fill="#F2787D"/>
<circle cx="539.6" cy="1571.4" r="15" fill="#F2787D"/>
<circle cx="569.7" cy="1529.0" r="15" fill="#F2787D"/>
<circle cx="591.0" cy="1545.6" r="15" fill="#F2787D"/>
<circle cx="642.5" cy="1519.9" r="15" fill="#F2787D"/>
<circle cx="693.9" cy="1491.7" r="15" fill="#F2787D"/>
<circle cx="745.3" cy="1460.1" r="15" fill="#F2787D"/>
<circle cx="796.7" cy="1404.6" r="15" fill="#F2787D"/>
<line x1="292.80" y1="1218.40" x2="339.70" y2="1218.40" stroke="#F2787D" stroke-width="7.2"/>
<circle cx="316.2" cy="1218.4" r="15" fill="#F2787D"/>
<text x="366.00" y="1230.20" font-size="42.9" text-anchor="start" fill="#000" >AUC-OA Alone</text>
<line x1="292.80" y1="1276.10" x2="339.70" y2="1276.10" stroke="#6399D3" stroke-width="7.2"/>
<circle cx="316.2" cy="1276.1" r="15" fill="#6399D3"/>
<text x="366.00" y="1287.90" font-size="42.9" text-anchor="start" fill="#000" >AUC-OA+tPAA</text>
<line x1="1382.30" y1="1151.70" x2="2089.30" y2="1151.70" stroke="#000" stroke-width="7.0"/>
<line x1="1382.30" y1="1835.40" x2="2089.30" y2="1835.40" stroke="#000" stroke-width="7.0"/>
<line x1="1402.30" y1="1148.20" x2="1402.30" y2="1854.90" stroke="#000" stroke-width="7.0"/>
<line x1="2085.80" y1="1148.20" x2="2085.80" y2="1854.90" stroke="#000" stroke-width="7.0"/>
<line x1="1573.17" y1="1835.40" x2="1573.17" y2="1854.90" stroke="#000" stroke-width="7.0"/>
<line x1="1573.17" y1="1151.70" x2="1573.17" y2="1170.70" stroke="#000" stroke-width="7.0"/>
<line x1="1744.05" y1="1835.40" x2="1744.05" y2="1854.90" stroke="#000" stroke-width="7.0"/>
<line x1="1744.05" y1="1151.70" x2="1744.05" y2="1170.70" stroke="#000" stroke-width="7.0"/>
<line x1="1914.93" y1="1835.40" x2="1914.93" y2="1854.90" stroke="#000" stroke-width="7.0"/>
<line x1="1914.93" y1="1151.70" x2="1914.93" y2="1170.70" stroke="#000" stroke-width="7.0"/>
<line x1="1382.30" y1="1607.45" x2="1402.30" y2="1607.45" stroke="#000" stroke-width="7.0"/>
<line x1="2066.30" y1="1607.45" x2="2085.80" y2="1607.45" stroke="#000" stroke-width="7.0"/>
<line x1="1382.30" y1="1493.50" x2="1402.30" y2="1493.50" stroke="#000" stroke-width="7.0"/>
<line x1="2066.30" y1="1493.50" x2="2085.80" y2="1493.50" stroke="#000" stroke-width="7.0"/>
<line x1="1382.30" y1="1379.55" x2="1402.30" y2="1379.55" stroke="#000" stroke-width="7.0"/>
<line x1="2066.30" y1="1379.55" x2="2085.80" y2="1379.55" stroke="#000" stroke-width="7.0"/>
<line x1="1382.30" y1="1265.60" x2="1402.30" y2="1265.60" stroke="#000" stroke-width="7.0"/>
<line x1="2066.30" y1="1265.60" x2="2085.80" y2="1265.60" stroke="#000" stroke-width="7.0"/>
<line x1="1382.30" y1="1721.40" x2="1402.30" y2="1721.40" stroke="#000" stroke-width="7.0"/>
<text x="1361.30" y="1856.75" font-size="61" text-anchor="end" fill="#000" >100</text>
<text x="1361.30" y="1628.85" font-size="61" text-anchor="end" fill="#000" >100</text>
<text x="1361.30" y="1514.90" font-size="61" text-anchor="end" fill="#000" >200</text>
<text x="1361.30" y="1400.95" font-size="61" text-anchor="end" fill="#000" >300</text>
<text x="1361.30" y="1287.00" font-size="61" text-anchor="end" fill="#000" >400</text>
<text x="1361.30" y="1173.05" font-size="61" text-anchor="end" fill="#000" >500</text>
<text x="1320.70" y="1742.80" font-size="61" text-anchor="middle" fill="#000" >0</text>
<text x="1252.20" y="1863.15" font-size="72" text-anchor="middle" fill="#000" >−</text>
<text x="1401.10" y="1912.80" font-size="63.3" text-anchor="middle" fill="#000" >0</text>
<text x="1574.67" y="1912.80" font-size="63.3" text-anchor="middle" fill="#000" >20</text>
<text x="1745.95" y="1912.80" font-size="63.3" text-anchor="middle" fill="#000" >40</text>
<text x="1916.43" y="1912.80" font-size="63.3" text-anchor="middle" fill="#000" >60</text>
<text x="2086.00" y="1912.80" font-size="63.3" text-anchor="middle" fill="#000" >80</text>
<text transform="translate(1745.6,2009.9) scale(1,1.04)" font-size="65.2" text-anchor="middle">[OleA] (<tspan font-weight="normal">μ</tspan>M)</text>
<text transform="translate(1228.60,1478.30) rotate(-90)" font-size="72" text-anchor="middle">Second Derivative</text>
<text transform="translate(1269.00,1093.80) scale(1,1.04)" font-size="64.4" text-anchor="start" fill="#000" >(</text>
<text transform="translate(1300.50,1093.80) scale(1,1.04)" font-size="64.7" text-anchor="start" fill="#000" >D) Second Derivative of Panel C</text>
<clipPath id="clipD"><rect x="1398.8" y="1148.2" width="690.5" height="687.2"/></clipPath>
<g clip-path="url(#clipD)"><polyline points="1406.0,1860.00 1411.3,1834.00 1422.0,1794.80 1438.7,1761.60 1452.4,1737.10 1481.8,1713.60 1554.2,1701.90 1708.8,1726.30 2017.6,1727.90" fill="none" stroke="#6399D3" stroke-width="7.2" stroke-linejoin="miter" stroke-miterlimit="4"/></g>
<line x1="1400.1" y1="1721.4" x2="2085.8" y2="1721.4" stroke="#000" stroke-width="3.9" stroke-dasharray="4.0 9.05"/>
<g clip-path="url(#clipD)"><polyline points="1428.0,2074.00 1453.4,1171.20 1482.5,1616.80 1555.5,1730.30 1709.5,1734.20 2017.6,1710.30" fill="none" stroke="#F2787D" stroke-width="7.2" stroke-linejoin="miter" stroke-miterlimit="4"/></g>
<line x1="1671.00" y1="1219.00" x2="1717.70" y2="1219.00" stroke="#F2787D" stroke-width="7.2"/>
<text x="1744.50" y="1230.80" font-size="43.1" text-anchor="start" fill="#000" >AUC-OA Alone</text>
<line x1="1671.00" y1="1276.70" x2="1717.70" y2="1276.70" stroke="#6399D3" stroke-width="7.2"/>
<text x="1744.50" y="1288.50" font-size="43.1" text-anchor="start" fill="#000" >AUC-OA+tPAA</text>
<text x="1478.5" y="1377.5" font-size="54.5" fill="#F2787D" stroke="#2a2a2a" stroke-width="1.6" paint-order="fill" textLength="125.3" lengthAdjust="spacing">CMC</text>
<text x="1602.5" y="1394.5" font-size="30" fill="#F2787D" stroke="#2a2a2a" stroke-width="1.6" paint-order="fill">OA</text>
<text x="1659" y="1379.0" font-size="60" fill="#7d4a4c" stroke="#2a2a2a" stroke-width="1.2">=</text>
<text x="1702.6" y="1377.5" font-size="53.6" fill="#F2787D" stroke="#2a2a2a" stroke-width="1.6" paint-order="fill">6</text>
<text x="1740.7" y="1377.5" font-size="53.6" fill="#F2787D" stroke="#2a2a2a" stroke-width="1.6" paint-order="fill"><tspan font-weight="normal">μ</tspan>M</text>
<text x="1555.7" y="1689.8" font-size="54.5" fill="#6399D3" stroke="#2a2a2a" stroke-width="1.6" paint-order="fill" textLength="126.3" lengthAdjust="spacing">CMC</text>
<text x="1679.5" y="1706.8" font-size="30" fill="#6399D3" stroke="#2a2a2a" stroke-width="1.6" paint-order="fill">OA/PAA</text>
<text x="1802.8" y="1691.3" font-size="60" fill="#3f5674" stroke="#2a2a2a" stroke-width="1.2">=</text>
<text x="1846.5" y="1689.8" font-size="53.6" fill="#6399D3" stroke="#2a2a2a" stroke-width="1.6" paint-order="fill">18</text>
<text x="1911.5" y="1689.8" font-size="53.6" fill="#6399D3" stroke="#2a2a2a" stroke-width="1.6" paint-order="fill"><tspan font-weight="normal">μ</tspan>M</text>
</svg></body></html>
